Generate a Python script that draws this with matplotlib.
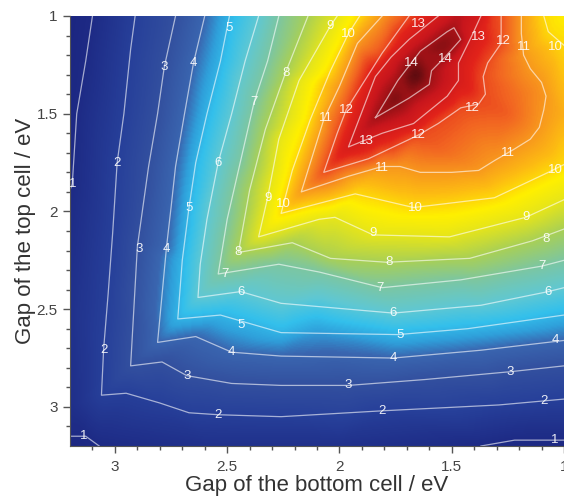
# -*- coding: utf-8 -*-
"""Tandem cell efficiency map: isolines read from the figure, filled by triangulation."""

import numpy as np
import matplotlib
matplotlib.use("Agg")
import matplotlib.pyplot as plt
from matplotlib.colors import LinearSegmentedColormap
from matplotlib.tri import Triangulation, LinearTriInterpolator

# isolines as (bottom gap, top gap) in eV
level_1a = [(3.10, 1.0), (3.13, 1.23), (3.17, 1.5), (3.19, 1.86), (3.2, 1.89)]
level_1b = [(3.2, 3.15), (3.13, 3.15), (3.07, 3.2)]
level_1c = [(1.37, 3.2), (1.22, 3.17), (1.0, 3.17)]
level_2 = [(2.91, 1.0), (2.93, 1.17), (2.96, 1.5), (2.99, 1.75), (3.01, 2.11), (3.03, 2.42),
           (3.05, 2.70), (3.06, 2.94), (2.95, 2.93), (2.80, 2.98), (2.67, 3.03), (2.54, 3.04),
           (2.26, 3.05), (1.81, 3.02), (1.29, 2.99), (1.0, 2.96)]
level_3 = [(2.73, 1.0), (2.78, 1.26), (2.81, 1.5), (2.85, 1.77), (2.90, 2.18), (2.93, 2.79),
           (2.79, 2.77), (2.68, 2.84), (2.48, 2.88), (2.26, 2.89), (1.96, 2.89), (1.62, 2.86),
           (1.24, 2.82), (1.0, 2.79)]
level_4 = [(2.60, 1.0), (2.65, 1.24), (2.69, 1.5), (2.73, 1.77), (2.75, 1.98), (2.77, 2.18),
           (2.81, 2.67), (2.64, 2.64), (2.48, 2.72), (2.26, 2.74), (1.76, 2.75), (1.37, 2.71),
           (1.0, 2.66)]
level_5 = [(2.49, 1.0), (2.53, 1.23), (2.59, 1.5), (2.64, 1.75), (2.67, 1.98), (2.70, 2.25),
           (2.72, 2.55), (2.53, 2.53), (2.26, 2.62), (1.74, 2.63), (1.43, 2.60), (1.0, 2.53)]
level_6 = [(2.36, 1.0), (2.42, 1.23), (2.48, 1.5), (2.54, 1.75), (2.59, 2.04), (2.62, 2.27),
           (2.63, 2.44), (2.44, 2.41), (2.26, 2.47), (1.76, 2.52), (1.37, 2.48), (1.07, 2.41),
           (1.0, 2.39)]
level_7 = [(2.27, 1.0), (2.32, 1.23), (2.38, 1.44), (2.44, 1.74), (2.50, 2.04), (2.54, 2.32),
           (2.27, 2.27), (2.09, 2.31), (1.81, 2.39), (1.46, 2.35), (1.10, 2.28), (1.0, 2.25)]
level_8 = [(2.14, 1.0), (2.24, 1.29), (2.33, 1.58), (2.40, 1.89), (2.45, 2.21), (2.21, 2.16),
           (2.04, 2.24), (1.79, 2.26), (1.42, 2.24), (1.14, 2.15), (1.0, 2.09)]
level_9 = [(2.01, 1.0), (2.04, 1.05), (2.18, 1.33), (2.27, 1.63), (2.32, 1.93), (2.36, 2.13),
           (2.09, 2.04), (2.02, 2.03), (1.85, 2.12), (1.51, 2.13), (1.17, 2.03), (1.0, 1.94)]
level_10a = [(1.91, 1.0), (1.96, 1.09), (2.04, 1.28), (2.13, 1.53), (2.21, 1.79), (2.26, 2.01),
             (1.93, 1.91), (1.67, 1.98), (1.31, 1.93), (1.07, 1.80), (1.0, 1.76)]
level_10b = [(1.09, 1.0), (1.07, 1.08), (1.0, 1.15)]
level_11 = [(1.81, 1.0), (1.92, 1.14), (2.00, 1.36), (2.07, 1.53), (2.17, 1.90), (1.96, 1.82),
            (1.81, 1.77), (1.73, 1.77), (1.64, 1.80), (1.50, 1.80), (1.38, 1.79), (1.31, 1.74),
            (1.22, 1.68), (1.15, 1.63), (1.11, 1.57), (1.09, 1.48), (1.08, 1.41), (1.10, 1.34),
            (1.15, 1.27), (1.18, 1.20), (1.19, 1.09), (1.19, 1.0)]
level_12 = [(1.69, 1.0), (1.81, 1.19), (1.97, 1.48), (2.01, 1.60), (2.07, 1.80), (1.87, 1.73),
            (1.65, 1.61), (1.56, 1.55), (1.46, 1.47), (1.38, 1.45), (1.35, 1.40), (1.36, 1.31),
            (1.34, 1.24), (1.28, 1.14), (1.28, 1.0)]
level_13 = [(1.56, 1.0), (1.69, 1.12), (1.77, 1.21), (1.84, 1.31), (1.96, 1.67), (1.81, 1.60),
            (1.67, 1.55), (1.52, 1.41), (1.47, 1.33), (1.47, 1.24), (1.41, 1.10), (1.37, 1.0)]
level_14 = [(1.84, 1.52), (1.74, 1.33), (1.64, 1.18), (1.52, 1.08), (1.49, 1.06), (1.46, 1.12),
            (1.53, 1.21), (1.59, 1.28), (1.60, 1.35), (1.69, 1.42), (1.84, 1.52)]

isolines = [(1, level_1a), (1, level_1b), (1, level_1c), (2, level_2), (3, level_3), (4, level_4),
            (5, level_5), (6, level_6), (7, level_7), (8, level_8), (9, level_9),
            (10, level_10a), (10, level_10b), (11, level_11), (12, level_12), (13, level_13),
            (14, level_14)]

# values between the isolines and at the frame edges
extra_points = [(3.2, 1.0, 0.75), (3.2, 1.5, 0.9), (3.2, 2.5, 1.3), (3.2, 3.0, 1.2), (3.2, 3.2, 0.8),
                (2.6, 3.2, 1.3), (2.0, 3.2, 1.3), (1.0, 3.2, 0.9), (1.0, 1.0, 9.7),
                (1.47, 1.0, 13.7), (1.66, 1.30, 14.95), (1.75, 1.42, 14.5), (1.55, 1.15, 14.4),
                (1.25, 1.50, 11.8), (1.2, 1.40, 11.5), (1.55, 1.68, 11.7), (1.0, 1.5, 10.6),
                (2.1, 2.6, 4.7), (1.5, 2.05, 9.5), (1.3, 1.0, 12.0)]

# (text, bottom gap, top gap)
contour_labels = [
    ("1", 3.19, 1.86), ("1", 3.14, 3.15), ("1", 1.04, 3.17),
    ("2", 2.99, 1.75), ("2", 3.05, 2.71), ("2", 2.54, 3.04), ("2", 1.81, 3.02), ("2", 1.09, 2.97),
    ("3", 2.78, 1.26), ("3", 2.89, 2.19), ("3", 2.68, 2.84), ("3", 1.96, 2.89), ("3", 1.24, 2.82),
    ("4", 2.65, 1.24), ("4", 2.77, 2.19), ("4", 2.48, 2.72), ("4", 1.76, 2.75), ("4", 1.04, 2.66),
    ("5", 2.49, 1.06), ("5", 2.67, 1.98), ("5", 2.44, 2.58), ("5", 1.73, 2.63),
    ("6", 2.54, 1.75), ("6", 2.44, 2.41), ("6", 1.76, 2.52), ("6", 1.07, 2.41),
    ("7", 2.38, 1.44), ("7", 2.51, 2.32), ("7", 1.82, 2.39), ("7", 1.10, 2.28),
    ("8", 2.24, 1.29), ("8", 2.45, 2.21), ("8", 1.78, 2.26), ("8", 1.08, 2.14),
    ("9", 2.04, 1.05), ("9", 2.32, 1.93), ("9", 1.85, 2.11), ("9", 1.17, 2.03),
    ("10", 1.96, 1.09), ("10", 2.25, 1.96), ("10", 1.66, 1.98), ("10", 1.04, 1.79), ("10", 1.04, 1.16),
    ("11", 2.06, 1.52), ("11", 1.81, 1.78), ("11", 1.25, 1.70), ("11", 1.18, 1.16),
    ("12", 1.97, 1.48), ("12", 1.65, 1.61), ("12", 1.41, 1.47), ("12", 1.27, 1.13),
    ("13", 1.65, 1.04), ("13", 1.88, 1.64), ("13", 1.38, 1.11),
    ("14", 1.68, 1.24), ("14", 1.53, 1.22),
]

major_ticks = [3, 2.5, 2, 1.5, 1]
major_labels = ["3", "2.5", "2", "1.5", "1"]

color_stops = [(0.7, "#1b2580"), (2, "#27409a"), (3, "#33509f"), (4, "#3a66b0"), (4.6, "#2f9fda"),
               (5.2, "#33c0ec"), (6, "#60c8d2"), (7, "#7cc6a2"), (8, "#a9d055"), (9, "#e6e51a"),
               (9.7, "#fff000"), (10.4, "#fdbb12"), (11, "#f8981d"), (11.7, "#f26522"),
               (12.5, "#e2231a"), (13.5, "#c8161d"), (14.3, "#8b1014"), (15, "#4d0a0e")]

plt.rcParams['font.family'] = ['Liberation Sans', 'DejaVu Sans']

# collect the read values, then fill a regular grid from them
xs, ys, zs = [], [], []
for level, line in isolines:
    for x, y in line:
        xs.append(x)
        ys.append(y)
        zs.append(level)
for x, y, z in extra_points:
    xs.append(x)
    ys.append(y)
    zs.append(z)

interp = LinearTriInterpolator(Triangulation(xs, ys), np.array(zs, dtype=float))
gx, gy = np.meshgrid(np.linspace(1.0, 3.2, 440), np.linspace(1.0, 3.2, 400))
grid = np.ma.filled(interp(gx, gy), 1.0)

# light box blur to hide the triangle facets
kernel = np.ones(9) / 9
pad = np.pad(grid, 4, mode='edge')
pad = np.apply_along_axis(lambda r: np.convolve(r, kernel, mode='same'), 0, pad)
pad = np.apply_along_axis(lambda r: np.convolve(r, kernel, mode='same'), 1, pad)
grid = pad[4:-4, 4:-4]

vmin, vmax = color_stops[0][0], color_stops[-1][0]
cmap = LinearSegmentedColormap.from_list(
    "gap", [((v - vmin) / (vmax - vmin), c) for v, c in color_stops])

fig = plt.figure(figsize=(5.64, 4.96), dpi=100)
ax = fig.add_axes([70 / 564, 50 / 496, 494 / 564, 430 / 496])

ax.imshow(grid, extent=[1.0, 3.2, 3.2, 1.0], aspect='auto', cmap=cmap,
          vmin=vmin, vmax=vmax, interpolation='bilinear')

for level, line in isolines:
    ax.plot([p[0] for p in line], [p[1] for p in line],
            color='white', alpha=0.6, linewidth=0.9)

for text, x, y in contour_labels:
    ax.text(x, y, text, color='white', alpha=0.9, fontsize=9.5, ha='center', va='center')

ax.set_xlim(3.2, 1.0)
ax.set_ylim(3.2, 1.0)
ax.set_xticks(major_ticks, major_labels)
ax.set_yticks(major_ticks, major_labels)
ax.set_xticks(np.arange(1.1, 3.2, 0.1), minor=True)
ax.set_yticks(np.arange(1.1, 3.2, 0.1), minor=True)
ax.tick_params(which='major', length=5, width=1, color='#555555', labelsize=11,
               labelcolor='#444444')
ax.tick_params(axis='x', which='major', pad=5)
ax.tick_params(axis='y', which='major', pad=4)
ax.tick_params(which='minor', length=3, width=1, color='#555555')
for side in ['top', 'right']:
    ax.spines[side].set_visible(False)
for side in ['left', 'bottom']:
    ax.spines[side].set_color('#555555')

ax.set_xlabel("Gap of the bottom cell / eV", fontsize=16, color='#333333', labelpad=1)
ax.set_ylabel("Gap of the top cell / eV", fontsize=16, color='#333333', labelpad=0)

fig.savefig("out.png", dpi=100)
